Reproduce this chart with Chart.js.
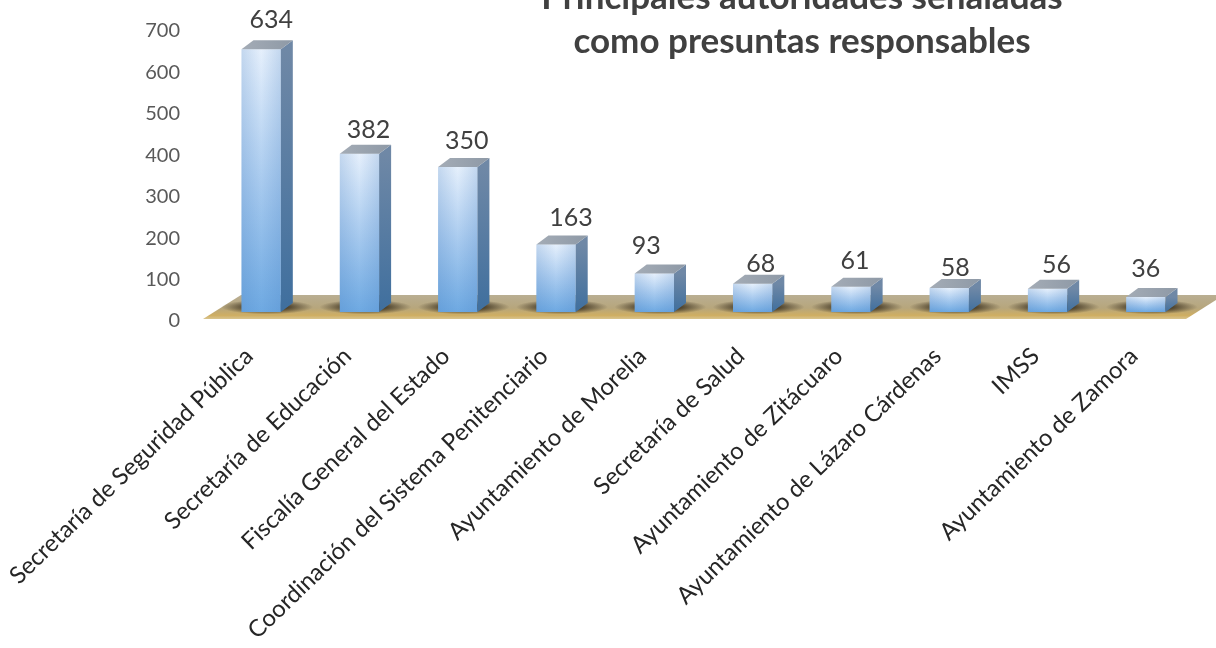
<!DOCTYPE html>
<html>
<head>
<meta charset="utf-8">
<title>Principales autoridades señaladas</title>
<script src="https://cdn.jsdelivr.net/npm/chart.js@4"></script>
<style>
    html, body { margin: 0; padding: 0; background: #fff; overflow: hidden; }
    #chartBox { width: 1216px; height: 648px; }
</style>
</head>
<body>
<div id="chartBox"><canvas id="authoritiesChart"></canvas></div>
<script>
const categories = [
    'Secretaría de Seguridad Pública',
    'Secretaría de Educación',
    'Fiscalía General del Estado',
    'Coordinación del Sistema Penitenciario',
    'Ayuntamiento de Morelia',
    'Secretaría de Salud',
    'Ayuntamiento de Zitácuaro',
    'Ayuntamiento de Lázaro Cárdenas',
    'IMSS',
    'Ayuntamiento de Zamora'
];
const complaints = [634, 382, 350, 163, 93, 68, 61, 58, 56, 36];
const titleLines = ['Principales autoridades señaladas', 'como presuntas responsables'];

// the value labels were moved by hand in the original, so they don't sit evenly
const labelShiftX = [10, 9, 9, 15, -8, 8, 4, 6, 9, 0];
const labelGap = [21, 16, 18, 18, 19, 12, 18, 12, 16, 20];

const FONT = 'Lato, "Open Sans", sans-serif';
const DEPTH_X = 12;
const DEPTH_Y = 9;

// Floor under the bars, plus the dark smudge around each base
const floorPlugin = {
    id: 'floor',
    beforeDatasetsDraw(chart) {
        const { ctx, chartArea } = chart;
        const front = chartArea.bottom + 7;
        const back = chartArea.bottom - 17;
        const floor = ctx.createLinearGradient(0, back, 0, front);
        floor.addColorStop(0, '#b9ae92');
        floor.addColorStop(0.55, '#b7a67c');
        floor.addColorStop(0.85, '#cfae62');
        floor.addColorStop(1, '#d9c48e');
        ctx.save();
        ctx.fillStyle = floor;
        ctx.beginPath();
        ctx.moveTo(chartArea.left - 9, front);
        ctx.lineTo(chartArea.left + 29, back);
        ctx.lineTo(chartArea.right + 29, back);
        ctx.lineTo(chartArea.right - 9, front);
        ctx.closePath();
        ctx.fill();

        chart.getDatasetMeta(0).data.forEach(bar => {
            const cx = bar.x + DEPTH_X / 2;
            const cy = chartArea.bottom - 5;
            ctx.save();
            ctx.translate(cx, cy);
            ctx.scale(1, 0.16);
            const smudge = ctx.createRadialGradient(0, 0, 18, 0, 0, 46);
            smudge.addColorStop(0, 'rgba(40,30,15,0.8)');
            smudge.addColorStop(1, 'rgba(40,30,15,0)');
            ctx.fillStyle = smudge;
            ctx.beginPath();
            ctx.arc(0, 0, 46, 0, Math.PI * 2);
            ctx.fill();
            ctx.restore();
        });
        ctx.restore();
    },
    // Side and top faces, drawn from the library's own bar elements
    afterDatasetsDraw(chart) {
        const { ctx } = chart;
        chart.getDatasetMeta(0).data.forEach((bar, i) => {
            const left = bar.x - bar.width / 2;
            const right = bar.x + bar.width / 2;
            const top = bar.y;
            const base = bar.base;

            const side = ctx.createLinearGradient(0, top, 0, base);
            side.addColorStop(0, '#6f88a6');
            side.addColorStop(1, '#3f6f9e');
            ctx.fillStyle = side;
            ctx.beginPath();
            ctx.moveTo(right, top);
            ctx.lineTo(right + DEPTH_X, top - DEPTH_Y);
            ctx.lineTo(right + DEPTH_X, base - DEPTH_Y);
            ctx.lineTo(right, base);
            ctx.closePath();
            ctx.fill();

            const lid = ctx.createLinearGradient(left, 0, right + DEPTH_X, 0);
            lid.addColorStop(0, '#a4acb6');
            lid.addColorStop(1, '#8e99a6');
            ctx.fillStyle = lid;
            ctx.beginPath();
            ctx.moveTo(left, top);
            ctx.lineTo(left + DEPTH_X, top - DEPTH_Y);
            ctx.lineTo(right + DEPTH_X, top - DEPTH_Y);
            ctx.lineTo(right, top);
            ctx.closePath();
            ctx.fill();

            // darker edges on the front face
            const edge = ctx.createLinearGradient(left, 0, right, 0);
            edge.addColorStop(0, 'rgba(70,125,190,0.22)');
            edge.addColorStop(0.5, 'rgba(70,125,190,0)');
            edge.addColorStop(1, 'rgba(70,125,190,0.22)');
            ctx.fillStyle = edge;
            ctx.fillRect(left, top, bar.width, base - top);

            // value label
            ctx.fillStyle = '#404040';
            ctx.font = '25px ' + FONT;
            ctx.textAlign = 'center';
            ctx.textBaseline = 'alphabetic';
            ctx.fillText(String(complaints[i]), bar.x + labelShiftX[i], top - labelGap[i]);
        });
    },
    afterDraw(chart) {
        const { ctx } = chart;
        ctx.save();
        ctx.fillStyle = '#404040';
        ctx.font = 'bold 35px ' + FONT;
        ctx.textAlign = 'center';
        ctx.textBaseline = 'alphabetic';
        titleLines.forEach((line, i) => ctx.fillText(line, 802, 9 + i * 44));
        ctx.restore();
    }
};

function frontFace(context) {
    const { chart, raw } = context;
    if (raw === undefined || !chart.chartArea) return '#a9cbef';
    const top = chart.scales.y.getPixelForValue(raw);
    const base = chart.scales.y.getPixelForValue(0);
    const g = chart.ctx.createLinearGradient(0, top, 0, base);
    g.addColorStop(0, '#e6f0fc');
    g.addColorStop(0.5, '#a9cbef');
    g.addColorStop(1, '#6ea9e2');
    return g;
}

new Chart(document.getElementById('authoritiesChart'), {
    type: 'bar',
    data: {
        labels: categories,
        datasets: [{
            data: complaints,
            backgroundColor: frontFace,
            borderWidth: 0,
            categoryPercentage: 1,
            barPercentage: 0.4
        }]
    },
    options: {
        responsive: true,
        maintainAspectRatio: false,
        animation: false,
        layout: { padding: { left: 0, right: 21, top: 22, bottom: 0 } },
        plugins: { legend: { display: false }, tooltip: { enabled: false }, title: { display: false } },
        scales: {
            x: {
                grid: { display: false, drawTicks: false },
                border: { display: false },
                afterFit: scale => {
                    scale.height = 336;
                    scale.paddingLeft = 0;
                    scale.paddingRight = 0;
                },
                ticks: {
                    autoSkip: false,
                    minRotation: 44,
                    maxRotation: 44,
                    padding: 30,
                    labelOffset: -12,
                    color: '#262626',
                    font: { family: FONT, size: 23.8 }
                }
            },
            y: {
                min: 0,
                max: 700,
                grid: { display: false, drawTicks: false },
                border: { display: false },
                afterFit: scale => {
                    scale.width = 212;
                    scale.paddingTop = 0;
                    scale.paddingBottom = 0;
                },
                ticks: {
                    stepSize: 100,
                    padding: 32,
                    labelOffset: 9,
                    color: '#595959',
                    font: { family: FONT, size: 20 }
                }
            }
        }
    },
    plugins: [floorPlugin]
});
</script>
</body>
</html>
